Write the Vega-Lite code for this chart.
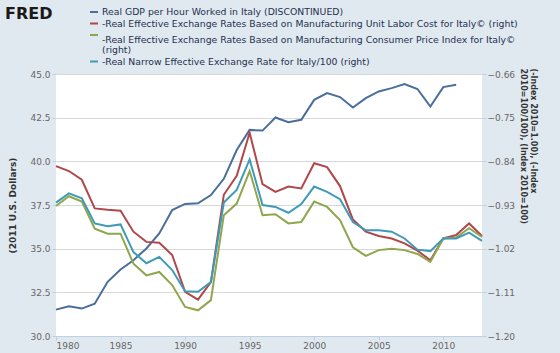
{
  "$schema": "https://vega.github.io/schema/vega-lite/v6.json",
  "width": 426,
  "height": 262,
  "autosize": "none",
  "padding": {"left": 56, "top": 74, "right": 78, "bottom": 17},
  "background": "#E1E9F0",
  "title": {"text": "FRED", "anchor": "start", "frame": "group", "orient": "top", "offset": -28, "dx": -51, "baseline": "alphabetic", "font": "DejaVu Sans", "fontSize": 16, "fontWeight": "bold", "color": "#1a1a1a"},
  "data": {"values": [
    {"s":"gdp","year":1980,"v":31.51},{"s":"gdp","year":1981,"v":31.70},{"s":"gdp","year":1982,"v":31.57},{"s":"gdp","year":1983,"v":31.85},{"s":"gdp","year":1984,"v":33.10},{"s":"gdp","year":1985,"v":33.81},{"s":"gdp","year":1986,"v":34.34},{"s":"gdp","year":1987,"v":35.01},{"s":"gdp","year":1988,"v":35.87},{"s":"gdp","year":1989,"v":37.21},{"s":"gdp","year":1990,"v":37.56},{"s":"gdp","year":1991,"v":37.60},{"s":"gdp","year":1992,"v":38.07},{"s":"gdp","year":1993,"v":39.00},{"s":"gdp","year":1994,"v":40.65},{"s":"gdp","year":1995,"v":41.80},{"s":"gdp","year":1996,"v":41.76},{"s":"gdp","year":1997,"v":42.51},{"s":"gdp","year":1998,"v":42.24},{"s":"gdp","year":1999,"v":42.38},{"s":"gdp","year":2000,"v":43.52},{"s":"gdp","year":2001,"v":43.91},{"s":"gdp","year":2002,"v":43.68},{"s":"gdp","year":2003,"v":43.08},{"s":"gdp","year":2004,"v":43.62},{"s":"gdp","year":2005,"v":44.00},{"s":"gdp","year":2006,"v":44.19},{"s":"gdp","year":2007,"v":44.42},{"s":"gdp","year":2008,"v":44.14},{"s":"gdp","year":2009,"v":43.14},{"s":"gdp","year":2010,"v":44.25},{"s":"gdp","year":2011,"v":44.38},
    {"s":"ulc","year":1980,"v":-0.850},{"s":"ulc","year":1981,"v":-0.860},{"s":"ulc","year":1982,"v":-0.878},{"s":"ulc","year":1983,"v":-0.937},{"s":"ulc","year":1984,"v":-0.940},{"s":"ulc","year":1985,"v":-0.942},{"s":"ulc","year":1986,"v":-0.985},{"s":"ulc","year":1987,"v":-1.006},{"s":"ulc","year":1988,"v":-1.008},{"s":"ulc","year":1989,"v":-1.033},{"s":"ulc","year":1990,"v":-1.109},{"s":"ulc","year":1991,"v":-1.125},{"s":"ulc","year":1992,"v":-1.089},{"s":"ulc","year":1993,"v":-0.909},{"s":"ulc","year":1994,"v":-0.870},{"s":"ulc","year":1995,"v":-0.781},{"s":"ulc","year":1996,"v":-0.887},{"s":"ulc","year":1997,"v":-0.903},{"s":"ulc","year":1998,"v":-0.892},{"s":"ulc","year":1999,"v":-0.896},{"s":"ulc","year":2000,"v":-0.844},{"s":"ulc","year":2001,"v":-0.852},{"s":"ulc","year":2002,"v":-0.891},{"s":"ulc","year":2003,"v":-0.960},{"s":"ulc","year":2004,"v":-0.985},{"s":"ulc","year":2005,"v":-0.994},{"s":"ulc","year":2006,"v":-0.999},{"s":"ulc","year":2007,"v":-1.009},{"s":"ulc","year":2008,"v":-1.024},{"s":"ulc","year":2009,"v":-1.044},{"s":"ulc","year":2010,"v":-0.999},{"s":"ulc","year":2011,"v":-0.992},{"s":"ulc","year":2012,"v":-0.968},{"s":"ulc","year":2013,"v":-0.994},
    {"s":"cpi","year":1980,"v":-0.932},{"s":"cpi","year":1981,"v":-0.912},{"s":"cpi","year":1982,"v":-0.923},{"s":"cpi","year":1983,"v":-0.979},{"s":"cpi","year":1984,"v":-0.989},{"s":"cpi","year":1985,"v":-0.989},{"s":"cpi","year":1986,"v":-1.051},{"s":"cpi","year":1987,"v":-1.075},{"s":"cpi","year":1988,"v":-1.068},{"s":"cpi","year":1989,"v":-1.095},{"s":"cpi","year":1990,"v":-1.140},{"s":"cpi","year":1991,"v":-1.147},{"s":"cpi","year":1992,"v":-1.126},{"s":"cpi","year":1993,"v":-0.951},{"s":"cpi","year":1994,"v":-0.927},{"s":"cpi","year":1995,"v":-0.860},{"s":"cpi","year":1996,"v":-0.951},{"s":"cpi","year":1997,"v":-0.949},{"s":"cpi","year":1998,"v":-0.968},{"s":"cpi","year":1999,"v":-0.965},{"s":"cpi","year":2000,"v":-0.923},{"s":"cpi","year":2001,"v":-0.934},{"s":"cpi","year":2002,"v":-0.961},{"s":"cpi","year":2003,"v":-1.017},{"s":"cpi","year":2004,"v":-1.035},{"s":"cpi","year":2005,"v":-1.023},{"s":"cpi","year":2006,"v":-1.020},{"s":"cpi","year":2007,"v":-1.023},{"s":"cpi","year":2008,"v":-1.031},{"s":"cpi","year":2009,"v":-1.047},{"s":"cpi","year":2010,"v":-0.999},{"s":"cpi","year":2011,"v":-0.997},{"s":"cpi","year":2012,"v":-0.978},{"s":"cpi","year":2013,"v":-0.996},
    {"s":"neer","year":1980,"v":-0.925},{"s":"neer","year":1981,"v":-0.906},{"s":"neer","year":1982,"v":-0.916},{"s":"neer","year":1983,"v":-0.968},{"s":"neer","year":1984,"v":-0.974},{"s":"neer","year":1985,"v":-0.970},{"s":"neer","year":1986,"v":-1.027},{"s":"neer","year":1987,"v":-1.050},{"s":"neer","year":1988,"v":-1.037},{"s":"neer","year":1989,"v":-1.064},{"s":"neer","year":1990,"v":-1.108},{"s":"neer","year":1991,"v":-1.109},{"s":"neer","year":1992,"v":-1.089},{"s":"neer","year":1993,"v":-0.925},{"s":"neer","year":1994,"v":-0.899},{"s":"neer","year":1995,"v":-0.836},{"s":"neer","year":1996,"v":-0.930},{"s":"neer","year":1997,"v":-0.934},{"s":"neer","year":1998,"v":-0.946},{"s":"neer","year":1999,"v":-0.928},{"s":"neer","year":2000,"v":-0.892},{"s":"neer","year":2001,"v":-0.903},{"s":"neer","year":2002,"v":-0.918},{"s":"neer","year":2003,"v":-0.965},{"s":"neer","year":2004,"v":-0.982},{"s":"neer","year":2005,"v":-0.982},{"s":"neer","year":2006,"v":-0.985},{"s":"neer","year":2007,"v":-0.999},{"s":"neer","year":2008,"v":-1.022},{"s":"neer","year":2009,"v":-1.025},{"s":"neer","year":2010,"v":-0.999},{"s":"neer","year":2011,"v":-0.999},{"s":"neer","year":2012,"v":-0.987},{"s":"neer","year":2013,"v":-1.004}
  ]},
  "encoding": {
    "x": {"field": "year", "type": "quantitative", "scale": {"domain": [1980, 2013], "nice": false, "zero": false},
      "axis": {"title": null, "values": [1980, 1985, 1990, 1995, 2000, 2005, 2010], "format": "d", "grid": false, "tickSize": 4, "labelPadding": 1, "domainColor": "#C0D0E0", "tickColor": "#C0D0E0"}},
    "color": {"field": "s", "type": "nominal",
      "scale": {"domain": ["gdp", "ulc", "cpi", "neer"], "range": ["#4A6E9C", "#B0474A", "#8FA64E", "#3F9AB8"]},
      "legend": {"orient": "none", "legendX": 33, "legendY": -67, "title": null, "symbolType": "stroke", "symbolSize": 64, "symbolStrokeWidth": 2, "labelFont": "DejaVu Sans", "labelFontSize": 9.3, "labelColor": "#1f3050", "labelLimit": 0, "rowPadding": 0.5, "labelOffset": 3,
        "labelExpr": "datum.value == 'gdp' ? 'Real GDP per Hour Worked in Italy (DISCONTINUED)' : datum.value == 'ulc' ? '-Real Effective Exchange Rates Based on Manufacturing Unit Labor Cost for Italy© (right)' : datum.value == 'cpi' ? ['-Real Effective Exchange Rates Based on Manufacturing Consumer Price Index for Italy©', '(right)'] : '-Real Narrow Effective Exchange Rate for Italy/100 (right)'",
        "encode": {"labels": {"update": {"dy": {"signal": "datum.value === 'cpi' ? 5 : 0"}, "lineHeight": {"value": 10}}}}}}
  },
  "layer": [
    {
      "transform": [{"filter": "datum.s == 'gdp'"}],
      "mark": {"type": "line", "strokeWidth": 2},
      "encoding": {
        "y": {"field": "v", "type": "quantitative", "scale": {"domain": [30, 45], "nice": false, "zero": false},
          "axis": {"title": "(2011 U.S. Dollars)", "values": [30, 32.5, 35, 37.5, 40, 42.5, 45], "format": ".1f", "grid": true, "gridColor": "#D8D8D8", "domain": false, "tickSize": 4, "tickColor": "#C0D0E0", "labelPadding": 2, "titleFontWeight": "bold", "titleFontSize": 9, "titleColor": "#333", "titleX": -48, "titleBaseline": "top"}}
      }
    },
    {
      "transform": [{"filter": "datum.s != 'gdp'"}],
      "mark": {"type": "line", "strokeWidth": 2},
      "encoding": {
        "y": {"field": "v", "type": "quantitative", "scale": {"domain": [-1.2, -0.66], "nice": false, "zero": false},
          "axis": {"orient": "right", "title": ["(-Index 2010=1.00), (-Index", "2010=100/100), (Index 2010=100)"], "values": [-1.2, -1.11, -1.02, -0.93, -0.84, -0.75, -0.66], "format": ".2f", "grid": false, "domain": false, "tickSize": 4, "tickColor": "#C0D0E0", "labelPadding": 1, "titleAngle": 90, "titleAlign": "left", "titleBaseline": "top", "titleX": 54, "titleY": -6, "titleFontWeight": "bold", "titleFontSize": 8, "titleLineHeight": 10, "titleColor": "#333"}}
      }
    }
  ],
  "resolve": {"scale": {"y": "independent"}},
  "config": {
    "view": {"fill": "white", "stroke": null},
    "axis": {"labelFont": "DejaVu Sans", "labelFontSize": 9, "labelColor": "#666", "titleFont": "DejaVu Sans"}
  }
}
